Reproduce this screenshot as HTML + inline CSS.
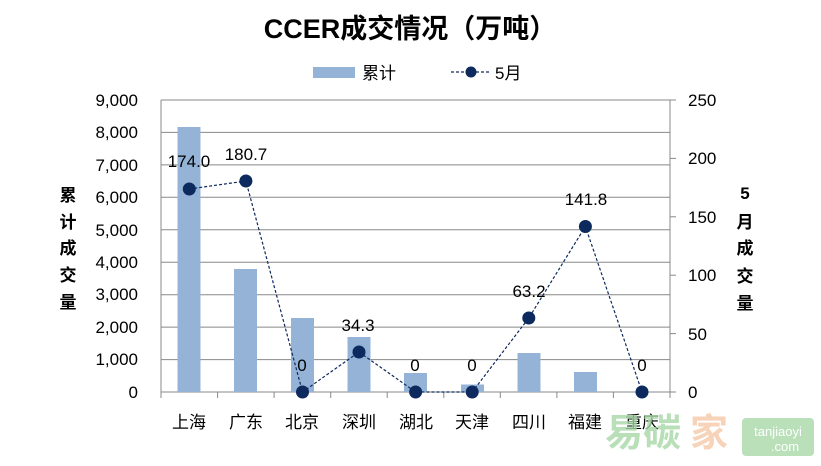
<!DOCTYPE html>
<html><head><meta charset="utf-8"><style>
html,body{margin:0;padding:0;background:#fff;}
svg{display:block;font-family:"Liberation Sans","Noto Sans CJK SC",sans-serif;}
</style></head><body>
<svg width="821" height="466" viewBox="0 0 821 466" xmlns="http://www.w3.org/2000/svg">
<rect width="821" height="466" fill="#fff"/>
<text x="410" y="38" text-anchor="middle" font-size="27" font-weight="bold" fill="#000">CCER成交情况（万吨）</text>
<rect x="313" y="67" width="42" height="11" fill="#95b3d7"/>
<text x="362" y="79" font-size="17" fill="#000">累计</text>
<line x1="451" y1="72" x2="490" y2="72" stroke="#0d2a5e" stroke-width="1.2" stroke-dasharray="3,2"/>
<circle cx="471" cy="72" r="5.5" fill="#0d2a5e"/>
<text x="495" y="79" font-size="17" fill="#000">5月</text>
<g stroke="#888" stroke-width="1">
<line x1="161" y1="100" x2="670" y2="100"/>
<line x1="161" y1="132.4" x2="670" y2="132.4"/>
<line x1="161" y1="164.9" x2="670" y2="164.9"/>
<line x1="161" y1="197.3" x2="670" y2="197.3"/>
<line x1="161" y1="229.8" x2="670" y2="229.8"/>
<line x1="161" y1="262.2" x2="670" y2="262.2"/>
<line x1="161" y1="294.7" x2="670" y2="294.7"/>
<line x1="161" y1="327.1" x2="670" y2="327.1"/>
<line x1="161" y1="359.6" x2="670" y2="359.6"/>
<line x1="161" y1="392" x2="670" y2="392"/>
<line x1="161" y1="100" x2="161" y2="392"/>
<line x1="670" y1="100" x2="670" y2="392"/>
<line x1="670" y1="100" x2="676" y2="100"/>
<line x1="670" y1="158.4" x2="676" y2="158.4"/>
<line x1="670" y1="216.8" x2="676" y2="216.8"/>
<line x1="670" y1="275.2" x2="676" y2="275.2"/>
<line x1="670" y1="333.6" x2="676" y2="333.6"/>
<line x1="670" y1="392" x2="676" y2="392"/>
<line x1="161" y1="392" x2="161" y2="398"/>
<line x1="217.6" y1="392" x2="217.6" y2="398"/>
<line x1="274.1" y1="392" x2="274.1" y2="398"/>
<line x1="330.7" y1="392" x2="330.7" y2="398"/>
<line x1="387.2" y1="392" x2="387.2" y2="398"/>
<line x1="443.8" y1="392" x2="443.8" y2="398"/>
<line x1="500.3" y1="392" x2="500.3" y2="398"/>
<line x1="556.9" y1="392" x2="556.9" y2="398"/>
<line x1="613.4" y1="392" x2="613.4" y2="398"/>
<line x1="670" y1="392" x2="670" y2="398"/>
</g>
<g font-size="17" fill="#000" text-anchor="end">
<text x="138" y="106">9,000</text><text x="138" y="138">8,000</text><text x="138" y="171">7,000</text>
<text x="138" y="203">6,000</text><text x="138" y="236">5,000</text><text x="138" y="268">4,000</text>
<text x="138" y="300">3,000</text><text x="138" y="333">2,000</text><text x="138" y="365">1,000</text>
<text x="138" y="398">0</text>
</g>
<g font-size="17" fill="#000">
<text x="688" y="106">250</text><text x="688" y="164">200</text><text x="688" y="223">150</text>
<text x="688" y="281">100</text><text x="688" y="340">50</text><text x="688" y="398">0</text>
</g>
<g font-size="17" font-weight="bold" fill="#000" text-anchor="middle">
<text x="68" y="201">累</text><text x="68" y="228">计</text><text x="68" y="254">成</text><text x="68" y="281">交</text><text x="68" y="308">量</text>
<text x="745" y="199">5</text><text x="745" y="228">月</text><text x="745" y="254">成</text><text x="745" y="282">交</text><text x="745" y="309">量</text>
</g>
<g fill="#95b3d7">
<rect x="177.5" y="127" width="23" height="265"/>
<rect x="234" y="269" width="23" height="123"/>
<rect x="291" y="318" width="23" height="74"/>
<rect x="347.5" y="337" width="23" height="55"/>
<rect x="404" y="373" width="23" height="19"/>
<rect x="461" y="384.5" width="23" height="7.5"/>
<rect x="517.5" y="353" width="23" height="39"/>
<rect x="574" y="372" width="23" height="20"/>
</g>
<polyline points="189.3,189 245.9,181 302.5,392 359,352 415.6,392 472.2,392 528.8,318 585.4,226.5 642,392" fill="none" stroke="#0d2a5e" stroke-width="1.2" stroke-dasharray="3,2"/>
<g fill="#0d2a5e">
<circle cx="189.3" cy="189" r="6.5"/><circle cx="245.9" cy="181" r="6.5"/><circle cx="302.5" cy="392" r="6.5"/>
<circle cx="359" cy="352" r="6.5"/><circle cx="415.6" cy="392" r="6.5"/><circle cx="472.2" cy="392" r="6.5"/>
<circle cx="528.8" cy="318" r="6.5"/><circle cx="585.4" cy="226.5" r="6.5"/><circle cx="642" cy="392" r="6.5"/>
</g>
<g font-size="17" fill="#000" text-anchor="middle">
<text x="189" y="167">174.0</text><text x="246" y="160">180.7</text><text x="302" y="371">0</text>
<text x="358" y="331">34.3</text><text x="415" y="371">0</text><text x="472" y="371">0</text>
<text x="529" y="297">63.2</text><text x="586" y="205">141.8</text><text x="642" y="371">0</text>
</g>
<g font-size="17" fill="#000" text-anchor="middle">
<text x="189" y="428">上海</text><text x="246" y="428">广东</text><text x="302" y="428">北京</text>
<text x="359" y="428">深圳</text><text x="416" y="428">湖北</text><text x="472" y="428">天津</text>
<text x="529" y="428">四川</text><text x="585" y="428">福建</text><text x="642" y="428">重庆</text>
</g>
<text x="605" y="446" font-size="38" font-weight="bold" fill="#a8d8a8" opacity="0.8">易碳</text>
<text x="690" y="446" font-size="38" font-weight="bold" fill="#f5c9a8" opacity="0.8">家</text>
<rect x="742" y="418" width="72" height="38" rx="4" fill="#a8d8a8" opacity="0.8"/>
<text x="778" y="436" font-size="13" fill="#fff" text-anchor="middle">tanjiaoyi</text>
<text x="785" y="451" font-size="13" fill="#fff" text-anchor="middle">.com</text>
</svg>
</body></html>
